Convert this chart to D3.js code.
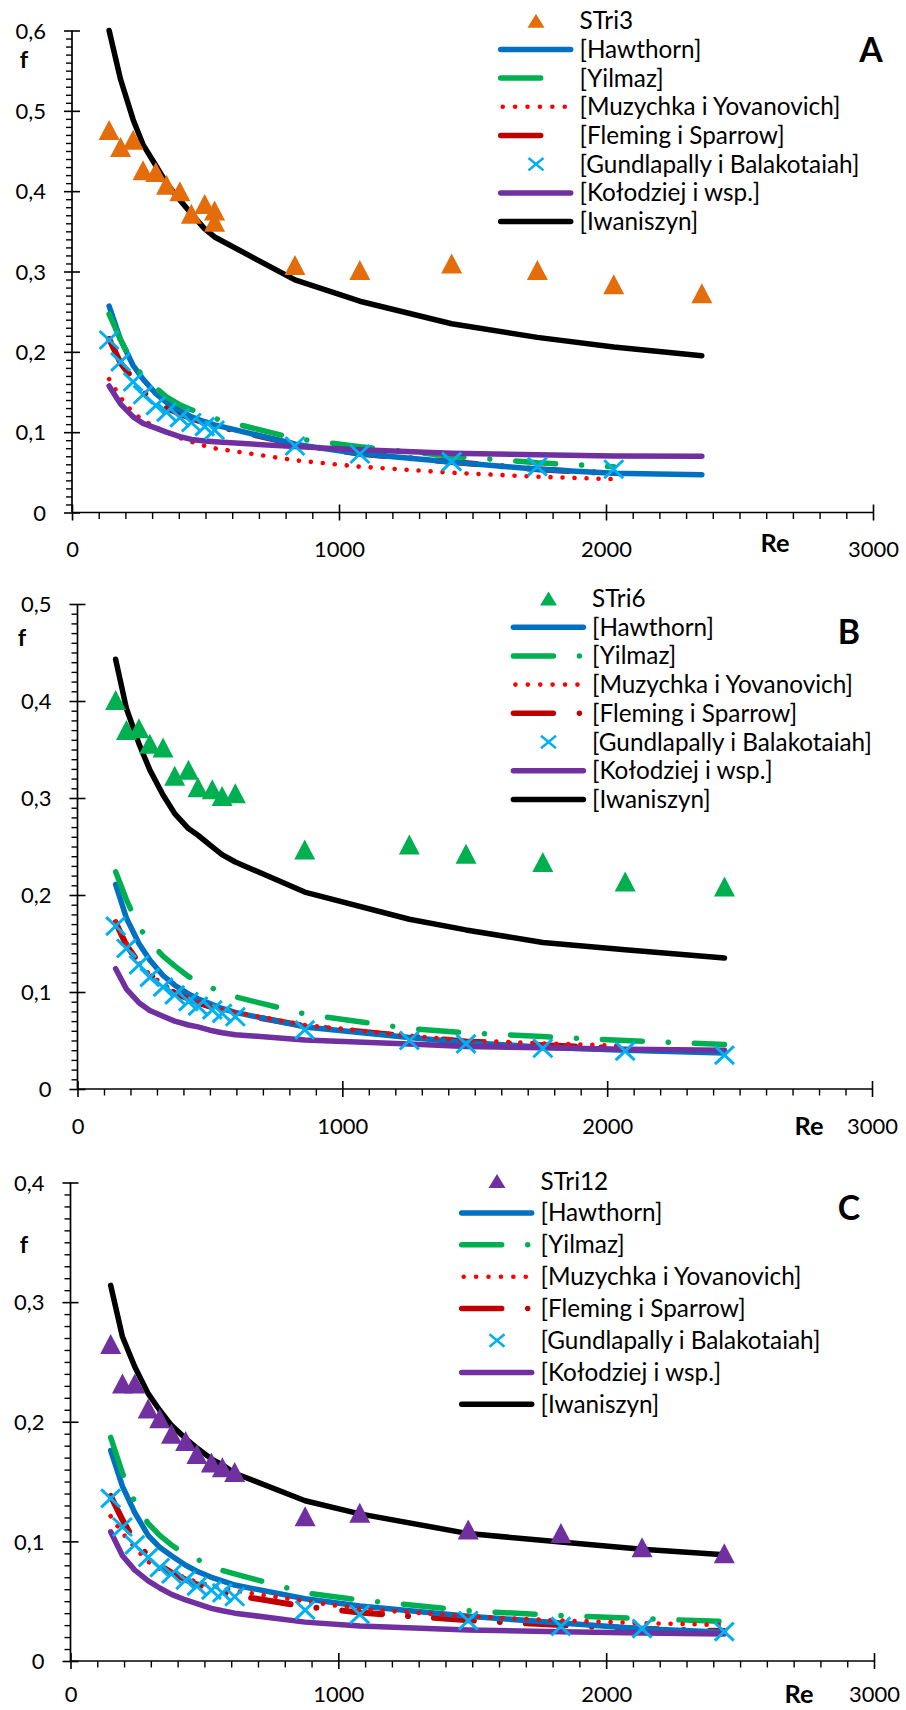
<!DOCTYPE html>
<html>
<head>
<meta charset="utf-8">
<script src="https://cdn.jsdelivr.net/npm/d3@7"></script>
<style>
  body { margin: 0; background: #fff; }
  svg { display: block; }
</style>
</head>
<body>
<svg id="chart" width="906" height="1710"></svg>
<script>
// ---------- data: friction factor f versus Reynolds number ----------

// Panel A – STri3
const reA        = [139, 182, 229, 266, 314, 354, 404, 447, 497, 534, 835, 1078, 1422, 1743, 2029, 2359];
const stri3Re    = [139, 182, 229, 266, 314, 354, 404, 447, 497, 534, 534, 835, 1078, 1422, 1743, 2029, 2359];
const stri3F     = [0.476, 0.455, 0.464, 0.426, 0.424, 0.408, 0.400, 0.372, 0.384, 0.376, 0.362, 0.308, 0.302, 0.310, 0.302, 0.284, 0.273];
const hawthornA  = [0.257, 0.215, 0.183, 0.166, 0.148, 0.137, 0.127, 0.119, 0.113, 0.109, 0.085, 0.073, 0.063, 0.0538, 0.0488, 0.047];
const yilmazA    = [0.247, 0.215, 0.185, 0.170, 0.155, 0.144, 0.134, 0.128, 0.121, 0.117, 0.092, 0.082, 0.070, 0.062, 0.057];
const muzychkaA  = [0.166, 0.143, 0.124, 0.115, 0.106, 0.100, 0.093, 0.088, 0.083, 0.080, 0.065, 0.057, 0.0495, 0.0445, 0.0415];
const flemingA   = [0.216, 0.186, 0.166, 0.150, 0.138, 0.130, 0.123, 0.117, 0.112, 0.108, 0.085, 0.073, 0.063, 0.0538, 0.0488];
const gundlapallyA = [0.2147, 0.1875, 0.1627, 0.1466, 0.133, 0.125, 0.118, 0.112, 0.107, 0.1026, 0.0828, 0.0728, 0.0633, 0.057, 0.0538];
const kolodziejA = [0.1575, 0.135, 0.119, 0.111, 0.105, 0.100, 0.0945, 0.091, 0.089, 0.088, 0.082, 0.078, 0.0737, 0.0718, 0.0703, 0.0700];
const iwaniszynA = [0.600, 0.539, 0.489, 0.458, 0.432, 0.410, 0.389, 0.372, 0.353, 0.343, 0.2895, 0.263, 0.235, 0.218, 0.206, 0.195];

// Panel B – STri6
const reB        = [144, 185, 232, 273, 323, 367, 419, 455, 509, 546, 596, 858, 1253, 1467, 1757, 2068, 2443];
const stri6F     = [0.401, 0.370, 0.372, 0.356, 0.352, 0.323, 0.329, 0.311, 0.309, 0.302, 0.305, 0.247, 0.252, 0.2425, 0.234, 0.214, 0.2087];
const hawthornB  = [0.211, 0.176, 0.150, 0.133, 0.117, 0.107, 0.098, 0.093, 0.087, 0.083, 0.079, 0.064, 0.053, 0.048, 0.043, 0.040, 0.037];
const yilmazB    = [0.224, 0.195, 0.167, 0.152, 0.137, 0.127, 0.116, 0.111, 0.104, 0.0995, 0.095, 0.0773, 0.0622, 0.058, 0.054, 0.050, 0.046];
const muzychkaB  = [0.172, 0.150, 0.130, 0.118, 0.108, 0.100, 0.094, 0.090, 0.085, 0.082, 0.079, 0.066, 0.055, 0.050, 0.047, 0.0445];
const flemingB   = [0.172, 0.148, 0.130, 0.118, 0.107, 0.099, 0.093, 0.089, 0.084, 0.081, 0.078, 0.065, 0.054, 0.049, 0.045, 0.042];
const gundlapallyB = [0.168, 0.145, 0.128, 0.115, 0.105, 0.097, 0.090, 0.0855, 0.0815, 0.078, 0.0745, 0.061, 0.050, 0.0465, 0.042, 0.039, 0.035];
const kolodziejB = [0.124, 0.103, 0.089, 0.081, 0.075, 0.070, 0.066, 0.064, 0.060, 0.058, 0.056, 0.0505, 0.0463, 0.0438, 0.0425, 0.041, 0.040];
const iwaniszynB = [0.443, 0.392, 0.356, 0.329, 0.303, 0.284, 0.2685, 0.2616, 0.2496, 0.2417, 0.234, 0.203, 0.175, 0.164, 0.151, 0.1435, 0.135];

// Panel C – STri12
const reC        = [150, 194, 240, 290, 333, 377, 430, 472, 526, 567, 613, 876, 1080, 1485, 1831, 2134, 2441];
const stri12F    = [0.265, 0.232, 0.232, 0.211, 0.203, 0.190, 0.184, 0.173, 0.166, 0.162, 0.158, 0.121, 0.124, 0.110, 0.107, 0.095, 0.090];
const hawthornC  = [0.176, 0.146, 0.124, 0.105, 0.095, 0.088, 0.080, 0.075, 0.070, 0.067, 0.0635, 0.052, 0.046, 0.0375, 0.0317, 0.027, 0.024];
const yilmazC    = [0.187, 0.157, 0.133, 0.115, 0.105, 0.097, 0.089, 0.085, 0.080, 0.0757, 0.0728, 0.057, 0.051, 0.042, 0.038, 0.0355, 0.033];
const muzychkaC  = [0.121, 0.107, 0.095, 0.083, 0.077, 0.074, 0.0695, 0.066, 0.0628, 0.061, 0.0587, 0.050, 0.0435, 0.0373, 0.0338, 0.0317, 0.0301];
const flemingC   = [0.138, 0.118, 0.100, 0.088, 0.080, 0.074, 0.068, 0.064, 0.060, 0.057, 0.055, 0.0455, 0.0405, 0.034, 0.030, 0.027, 0.025];
const gundlapallyC = [0.136, 0.112, 0.097, 0.0866, 0.078, 0.0727, 0.0676, 0.0626, 0.0593, 0.057, 0.0537, 0.0426, 0.039, 0.0337, 0.029, 0.027, 0.0245];
const kolodziejC = [0.108, 0.088, 0.076, 0.067, 0.061, 0.0557, 0.051, 0.048, 0.044, 0.042, 0.040, 0.0325, 0.0292, 0.026, 0.0245, 0.0235, 0.0225];
const iwaniszynC = [0.314, 0.271, 0.246, 0.2235, 0.2096, 0.197, 0.186, 0.178, 0.169, 0.164, 0.157, 0.134, 0.123, 0.1065, 0.0995, 0.0934, 0.0888];

// axis ticks
const reTicks = [0, 1000, 2000, 3000];
const legendLabels = ["[Hawthorn]", "[Yilmaz]", "[Muzychka i Yovanovich]", "[Fleming i Sparrow]",
                      "[Gundlapally i Balakotaiah]", "[Kołodziej i wsp.]", "[Iwaniszyn]"];

// ---------- styles ----------
const FONT = "Lato, 'Open Sans', 'Noto Sans', sans-serif";
const DASHDOT = "40 26 0.01 26";
const lineStyle = {
  hawthorn:  { color: "#0070C0", width: 5.5, dash: null },
  yilmaz:    { color: "#00B050", width: 5.5, dash: DASHDOT },
  muzychka:  { color: "#FF0000", width: 4.6, dash: "0.01 12" },
  fleming:   { color: "#C00000", width: 6,   dash: DASHDOT },
  kolodziej: { color: "#7030A0", width: 5.5, dash: null },
  iwaniszyn: { color: "#000000", width: 5.5, dash: null }
};
const crossColor = "#00B0F0";

const panels = [
  {
    letter: "A", expLabel: "STri3", expColor: "#E46C0A",
    x0: 72, x1: 873, y0: 512.5, yTop: 30.5, fMax: 0.6, labelGap: 37,
    letterPos: [871, 50], fPos: [24, 60], rePos: [775, 543],
    legend: { y: 20.7, step: 28.7, lx: 500.7, mx: 536, tx: 579.5, dot: false },
    expRe: stri3Re, expF: stri3F, re: reA,
    lines: { fleming: flemingA, hawthorn: hawthornA, yilmaz: yilmazA, muzychka: muzychkaA,
             kolodziej: kolodziejA, iwaniszyn: iwaniszynA },
    cross: gundlapallyA
  },
  {
    letter: "B", expLabel: "STri6", expColor: "#00B050",
    x0: 77.5, x1: 872, y0: 1089, yTop: 604, fMax: 0.5, labelGap: 37,
    letterPos: [849, 632], fPos: [22, 638], rePos: [809, 1126],
    legend: { y: 598.5, step: 28.7, lx: 513.4, mx: 548.5, tx: 592, dot: true },
    expRe: reB, expF: stri6F, re: reB,
    lines: { fleming: flemingB, hawthorn: hawthornB, yilmaz: yilmazB, muzychka: muzychkaB,
             kolodziej: kolodziejB, iwaniszyn: iwaniszynB },
    cross: gundlapallyB
  },
  {
    letter: "C", expLabel: "STri12", expColor: "#7030A0",
    x0: 70.5, x1: 874, y0: 1661, yTop: 1182.5, fMax: 0.4, labelGap: 33,
    letterPos: [849, 1208], fPos: [24, 1245], rePos: [799, 1694],
    legend: { y: 1181, step: 31.9, lx: 461.7, mx: 497, tx: 540.5, dot: true },
    expRe: reC, expF: stri12F, re: reC,
    lines: { fleming: flemingC, hawthorn: hawthornC, yilmaz: yilmazC, muzychka: muzychkaC,
             kolodziej: kolodziejC, iwaniszyn: iwaniszynC },
    cross: gundlapallyC
  }
];

const svg = d3.select("#chart");

// font sizes derived from the text widths they must occupy
function textWidth(txt, weight) {
  const t = svg.append("text").attr("font-family", FONT).attr("font-size", 100)
    .attr("font-weight", weight).text(txt);
  const w = t.node().getComputedTextLength();
  t.remove();
  return w;
}
const tickFont   = 100 * 51 / textWidth("1000", 400);
const legendFont = 100 * 280 / textWidth("[Gundlapally i Balakotaiah]", 400);
const titleFont  = 100 * 29 / textWidth("Re", 700);
const letterFont = 100 * 23.5 / textWidth("A", 700);

const fmtF = v => v === 0 ? "0" : d3.format(".1f")(v).replace(".", ",");

function trianglePath(w, h) {
  return `M0,${-h / 2}L${w / 2},${h / 2}L${-w / 2},${h / 2}Z`;
}
function drawCross(g, cx, cy, ax, ay, sw) {
  g.append("path")
    .attr("d", `M${cx - ax},${cy - ay}L${cx + ax},${cy + ay}M${cx - ax},${cy + ay}L${cx + ax},${cy - ay}`)
    .attr("stroke", crossColor).attr("stroke-width", sw).attr("fill", "none");
}

const drawOrder = ["fleming", "hawthorn", "yilmaz", "muzychka", "kolodziej", "iwaniszyn"];
const legendOrder = ["hawthorn", "yilmaz", "muzychka", "fleming", "gundlapally", "kolodziej", "iwaniszyn"];

panels.forEach(p => {
  const g = svg.append("g");
  const x = d3.scaleLinear().domain([0, 3000]).range([p.x0, p.x1]);
  const y = d3.scaleLinear().domain([0, p.fMax]).range([p.y0, p.yTop]);
  const nSteps = Math.round(p.fMax * 100);

  // ----- x axis: minor ticks every 100, major ticks every 1000 -----
  g.append("g").attr("transform", `translate(0,${p.y0})`)
    .call(d3.axisBottom(x).tickValues(d3.range(100, 3000, 100).filter(v => v % 1000 !== 0))
      .tickSize(6.5).tickFormat(""))
    .call(a => { a.select(".domain").remove(); a.selectAll(".tick line").attr("stroke", "#000").attr("stroke-width", 1.4); });

  g.append("g").attr("transform", `translate(0,${p.y0})`)
    .call(d3.axisBottom(x).tickValues(reTicks).tickSize(8).tickFormat(d3.format("d")))
    .call(a => {
      a.select(".domain").remove();
      a.selectAll(".tick line").attr("y1", -8).attr("stroke", "#000").attr("stroke-width", 1.6);
      a.selectAll(".tick text").attr("y", p.labelGap).attr("dy", "0.35em")
        .attr("font-family", FONT).attr("font-size", tickFont).attr("fill", "#000");
    });

  // ----- y axis: minor ticks every 0.01, major ticks every 0.1 -----
  g.append("g").attr("transform", `translate(${p.x0},0)`)
    .call(d3.axisLeft(y).tickValues(d3.range(1, nSteps).filter(i => i % 10 !== 0).map(i => i / 100))
      .tickSize(6).tickFormat(""))
    .call(a => { a.select(".domain").remove(); a.selectAll(".tick line").attr("stroke", "#000").attr("stroke-width", 1.4); });

  g.append("g").attr("transform", `translate(${p.x0},0)`)
    .call(d3.axisLeft(y).tickValues(d3.range(0, nSteps + 1, 10).map(i => i / 100))
      .tickSize(8).tickFormat(fmtF))
    .call(a => {
      a.select(".domain").remove();
      a.selectAll(".tick line").attr("x1", 8).attr("stroke", "#000").attr("stroke-width", 1.6);
      a.selectAll(".tick text").attr("x", -26).attr("dy", "0.35em")
        .attr("font-family", FONT).attr("font-size", tickFont).attr("fill", "#000");
    });

  // axis lines
  g.append("line").attr("x1", p.x0).attr("x2", p.x1).attr("y1", p.y0).attr("y2", p.y0)
    .attr("stroke", "#000").attr("stroke-width", 1.7);
  g.append("line").attr("x1", p.x0).attr("x2", p.x0).attr("y1", p.y0).attr("y2", p.yTop)
    .attr("stroke", "#000").attr("stroke-width", 1.7);

  // axis titles and panel letter
  g.append("text").attr("x", p.fPos[0]).attr("y", p.fPos[1]).attr("dy", "0.35em")
    .attr("text-anchor", "middle").attr("font-family", FONT).attr("font-weight", 700)
    .attr("font-size", titleFont * 0.92).text("f");
  g.append("text").attr("x", p.rePos[0]).attr("y", p.rePos[1]).attr("dy", "0.35em")
    .attr("text-anchor", "middle").attr("font-family", FONT).attr("font-weight", 700)
    .attr("font-size", titleFont).text("Re");
  g.append("text").attr("x", p.letterPos[0]).attr("y", p.letterPos[1]).attr("dy", "0.36em")
    .attr("text-anchor", "middle").attr("font-family", FONT).attr("font-weight", 700)
    .attr("font-size", letterFont).text(p.letter);

  // ----- model curves -----
  const line = d3.line().x(d => x(d[0])).y(d => y(d[1]));
  drawOrder.forEach(key => {
    const vals = p.lines[key];
    const st = lineStyle[key];
    const pts = vals.map((v, i) => [p.re[i], v]);
    g.append("path").attr("d", line(pts))
      .attr("fill", "none").attr("stroke", st.color).attr("stroke-width", st.width)
      .attr("stroke-linecap", "round").attr("stroke-linejoin", "round")
      .attr("stroke-dasharray", st.dash);
  });

  // Gundlapally i Balakotaiah markers
  p.cross.forEach((v, i) => drawCross(g, x(p.re[i]), y(v), 9.5, 9, 3));

  // measured points
  g.selectAll("path.exp").data(p.expRe.map((r, i) => [r, p.expF[i]])).join("path")
    .attr("class", "exp")
    .attr("d", trianglePath(21, 20))
    .attr("transform", d => `translate(${x(d[0])},${y(d[1])})`)
    .attr("fill", p.expColor);

  // ----- legend -----
  const L = p.legend;
  const lg = g.append("g");
  const rowY = i => L.y + i * L.step;
  lg.append("path").attr("d", trianglePath(17, 14))
    .attr("transform", `translate(${L.mx},${rowY(0)})`).attr("fill", p.expColor);
  lg.append("text").attr("x", L.tx).attr("y", rowY(0)).attr("dy", "0.35em")
    .attr("font-family", FONT).attr("font-size", legendFont).text(p.expLabel);

  legendOrder.forEach((key, k) => {
    const yy = rowY(k + 1);
    if (key === "gundlapally") {
      drawCross(lg, L.mx, yy, 7.5, 6.2, 2.5);
    } else {
      const st = lineStyle[key];
      let dash = st.dash;
      let off = 0;
      if (dash === DASHDOT && !L.dot) dash = "40 80";
      if (key === "muzychka") { dash = "0.01 12.4"; off = -2; }
      lg.append("line").attr("x1", L.lx).attr("x2", L.lx + 70).attr("y1", yy).attr("y2", yy)
        .attr("stroke", st.color).attr("stroke-width", key === "muzychka" ? 4.6 : 5.5)
        .attr("stroke-linecap", "round").attr("stroke-dasharray", dash)
        .attr("stroke-dashoffset", off);
    }
    lg.append("text").attr("x", L.tx).attr("y", yy).attr("dy", "0.35em")
      .attr("font-family", FONT).attr("font-size", legendFont).text(legendLabels[k]);
  });
});
</script>
</body>
</html>
